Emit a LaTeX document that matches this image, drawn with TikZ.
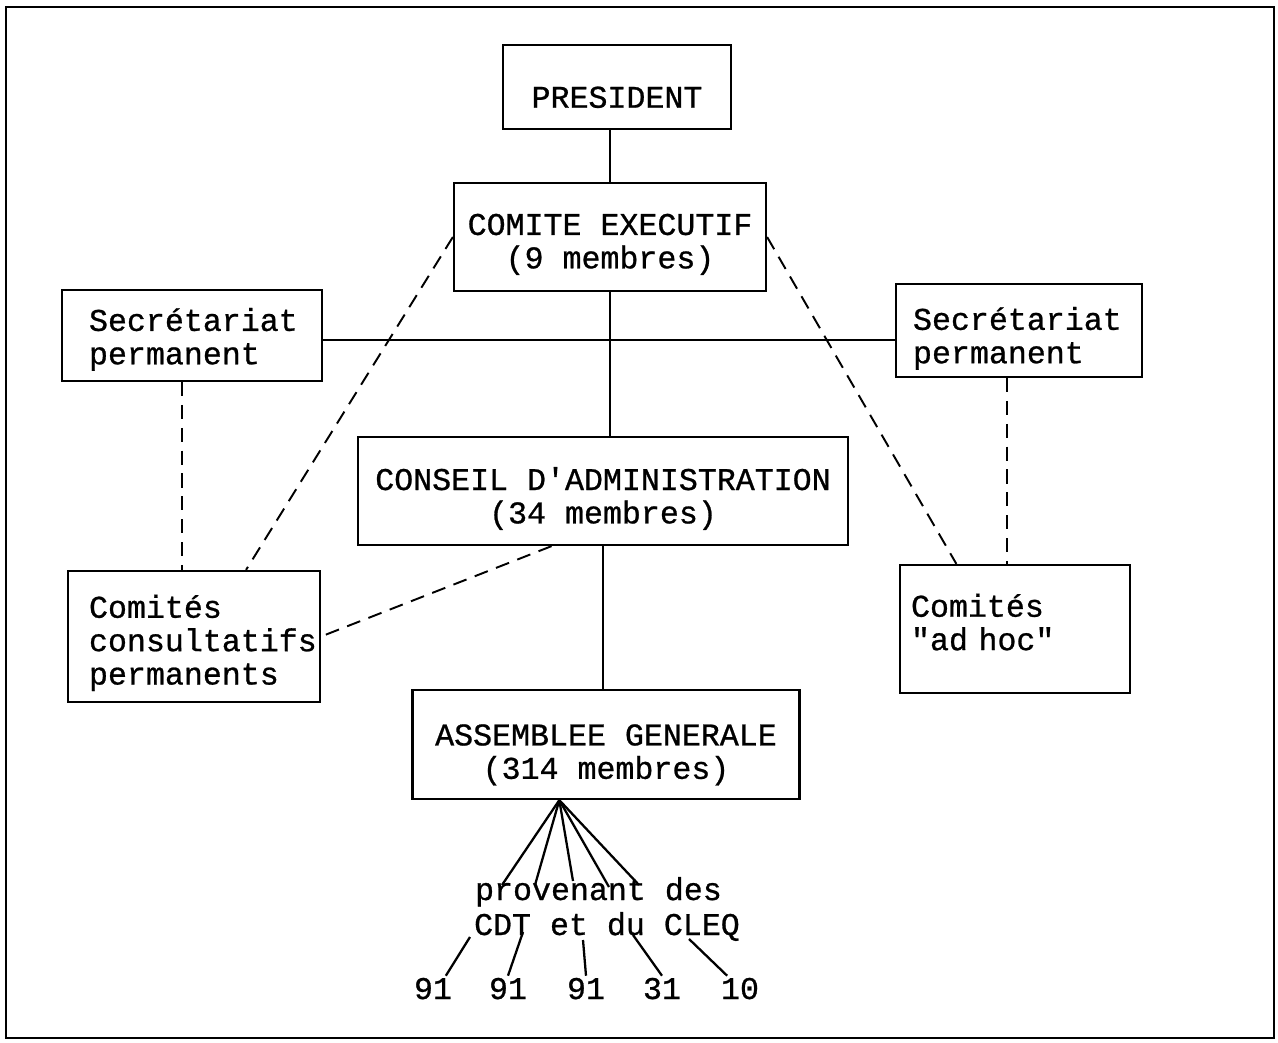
\documentclass[tikz,border=0pt]{standalone}
\usepackage{fontspec}
\setmonofont{Liberation Mono}[FakeBold=0.8]
\hfuzz=40pt
\newcommand{\orgfont}{\fontsize{18}{19}\selectfont\ttfamily}
\newcommand{\dn}[1]{\rule{0pt}{#1}}
\newcommand{\lift}[1]{\rule[-#1]{0pt}{#1}}
\tikzset{
  box/.style={draw, line width=1.3pt, rectangle, font=\orgfont, align=center, inner sep=0pt},
  lbox/.style={box, align=left},
  link/.style={line width=1.3pt},
  dlink/.style={line width=1.1pt, dash pattern=on 8pt off 5pt},
  txt/.style={font=\orgfont, inner sep=1pt},
}
\begin{document}
\begin{tikzpicture}[x=0.02cm, y=-0.02cm]
\useasboundingbox (0,0) rectangle (1278,1043);
\draw[line width=1.4pt] (6,7) rectangle (1274,1038);

% the boxes
\node[box, minimum width=4.56cm, minimum height=1.68cm] (pres) at (617,87) {\dn{23.8pt}PRESIDENT};
\node[box, minimum width=6.24cm, minimum height=2.16cm] (comite) at (610,237) {\dn{20.4pt}COMITE EXECUTIF\\(9 membres)};
\node[lbox, text width=4.12cm, inner xsep=0.54cm, minimum height=1.82cm] (secL) at (192,335.5) {\dn{17.5pt}Secrétariat\\permanent};
\node[lbox, text width=4.24cm, inner xsep=0.34cm, minimum height=1.86cm] (secR) at (1019,330.5) {\dn{22pt}Secrétariat\\permanent};
\node[box, minimum width=9.8cm, minimum height=2.16cm] (conseil) at (603,491) {\dn{21.6pt}CONSEIL D'ADMINISTRATION\\(34 membres)};
\node[lbox, text width=4.2cm, inner xsep=0.42cm, minimum height=2.62cm] (cons) at (194,636.5) {\dn{20.4pt}Comités\\consultatifs\\permanents};
\node[lbox, text width=4.16cm, inner xsep=0.22cm, minimum height=2.56cm] (adhoc) at (1015,629) {Comités\\"ad hoc"\lift{8pt}};
\node[box, minimum width=7.74cm, minimum height=2.18cm] (asm) at (606,744.5) {\dn{23.8pt}ASSEMBLEE GENERALE\\ (314 membres)};

% solid links
\coordinate (hl) at (612,340);
\draw[link] (comite.north |- pres.south) -- (comite.north);
\draw[link] (comite.south) -- (comite.south |- conseil.north);
\draw[link] (secL.east |- hl) -- (secR.west |- hl);
\draw[link] (conseil.south) -- (conseil.south |- asm.north);

% dashed links
\draw[dlink] ([xshift=-0.2cm]secL.south) -- ([xshift=-0.2cm]secL.south |- cons.north);
\draw[dlink] ([xshift=-0.24cm]secR.south) -- ([xshift=-0.24cm]secR.south |- adhoc.north);
\draw[dlink] (comite.west) -- (cons.52);
\draw[dlink] (comite.east) -- (adhoc.132);
\draw[dlink] (conseil.227) -- (cons.east);

% members of the assembly
\node[txt, anchor=base west] (prov) at (473,900) {provenant des};
\node[txt, anchor=base west] (orig) at (472,935) {CDT et du CLEQ};
\node[txt, anchor=base] (n1) at (433,999) {91};
\node[txt, anchor=base] (n2) at (508,999) {91};
\node[txt, anchor=base] (n3) at (586,999) {91};
\node[txt, anchor=base] (n4) at (662,999) {31};
\node[txt, anchor=base] (n5) at (740,999) {10};

\coordinate (apex) at (asm.230);
\coordinate (f1) at (502,885);
\coordinate (f2) at (535,885);
\coordinate (f3) at (573,881);
\coordinate (f4) at (609,887);
\coordinate (f5) at (639,885);
\foreach \i in {1,...,5}
  \draw[link] (apex) -- (f\i);

\coordinate (t1) at (470,937);
\coordinate (t2) at (523,932);
\coordinate (t3) at (583,940);
\coordinate (t4) at (633,935);
\coordinate (t5) at (689,939);
\draw[link] (t1) -- (n1.45);
\draw[link] (t2) -- (n2.north);
\draw[link] (t3) -- (n3.north);
\draw[link] (t4) -- (n4.north);
\draw[link] (t5) -- (n5.135);
\end{tikzpicture}
\end{document}
